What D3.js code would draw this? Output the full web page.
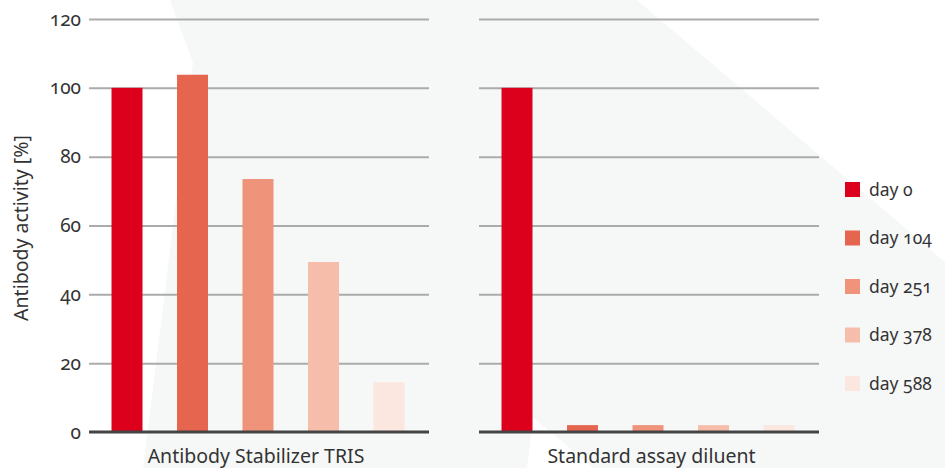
<!DOCTYPE html>
<html>
<head>
<meta charset="utf-8">
<script src="https://cdn.jsdelivr.net/npm/d3@7/dist/d3.min.js"></script>
<style>
  html, body { margin: 0; padding: 0; background: #ffffff; }
  svg text { font-family: "Noto Sans", "Open Sans", sans-serif; fill: #333333; font-feature-settings: "onum" 1; font-variant-numeric: oldstyle-nums; }
</style>
</head>
<body>
<svg id="chart" width="945" height="468"></svg>
<script>
const groups = ["Antibody Stabilizer TRIS", "Standard assay diluent"];
const series = ["day 0", "day 104", "day 251", "day 378", "day 588"];
const trisValues = [100, 103.8, 73.5, 49.4, 14.5];
const diluentValues = [100, 2, 2, 2, 2];
const colors = ["#dc001c", "#e6654f", "#ef937b", "#f6bdab", "#fbe7e0"];
const yTicks = [0, 20, 40, 60, 80, 100, 120];

const svg = d3.select("#chart");

// background decorative shape
const bgPts = [[170,0],[637,0],[945,262],[945,468],[593,468],[533,417],[527,468],[143,468],[193,63]];
svg.append("polygon")
  .attr("points", bgPts.map(p => p.join(",")).join(" "))
  .attr("fill", "#f6f8f7");

const y = d3.scaleLinear().domain([0, 120]).range([432, 19]);

const panels = [
  { name: groups[0], values: trisValues, x0: 89, x1: 429, labelX: 256 },
  { name: groups[1], values: diluentValues, x0: 479, x1: 819, labelX: 651.5 }
];

panels.forEach((p) => {
  const g = svg.append("g");
  const grid = g.append("g")
    .attr("transform", `translate(${p.x0},0)`)
    .call(d3.axisLeft(y).tickValues(yTicks.filter(t => t !== 0)).tickSize(-(p.x1 - p.x0)).tickFormat(""));
  grid.select(".domain").remove();
  grid.selectAll("line").attr("stroke", "#ababab").attr("stroke-width", 2);

  const x = d3.scaleBand().domain(series).range([p.x0, p.x1]).paddingInner(0.527).paddingOuter(0.359);
  g.selectAll("rect.bar")
    .data(p.values.map((v, i) => ({ s: series[i], v, c: colors[i] })))
    .join("rect")
    .attr("class", "bar")
    .attr("x", d => x(d.s) - 1)
    .attr("width", x.bandwidth())
    .attr("y", d => y(d.v))
    .attr("height", d => y(0) - y(d.v))
    .attr("fill", d => d.c);

  g.append("line")
    .attr("x1", p.x0).attr("x2", p.x1)
    .attr("y1", y(0)).attr("y2", y(0))
    .attr("stroke", "#444444").attr("stroke-width", 3);

  g.append("text")
    .attr("x", p.labelX)
    .attr("y", 463)
    .attr("text-anchor", "middle")
    .attr("font-size", 19.5)
    .text(p.name);
});

const yAxis = svg.append("g")
  .attr("transform", "translate(81,0)")
  .call(d3.axisLeft(y).tickValues(yTicks).tickSize(0).tickPadding(0));
yAxis.select(".domain").remove();
yAxis.selectAll("text")
  .attr("font-size", 19)
  .style("font-family", "'Noto Sans', 'Open Sans', sans-serif")
  .attr("fill", "#333333");

svg.append("text")
  .attr("transform", "translate(28,228) rotate(-90)")
  .attr("text-anchor", "middle")
  .attr("font-size", 19.5)
  .text("Antibody activity [%]");

const legend = svg.append("g");
const ly = d3.scalePoint().domain(series).range([189.5, 383.5]);
series.forEach((s, i) => {
  legend.append("rect")
    .attr("x", 845).attr("y", ly(s) - 7.5)
    .attr("width", 15).attr("height", 15)
    .attr("fill", colors[i]);
  legend.append("text")
    .attr("x", 869).attr("y", ly(s))
    .attr("dy", "0.35em")
    .attr("font-size", 17.5)
    .text(s);
});
</script>
</body>
</html>
